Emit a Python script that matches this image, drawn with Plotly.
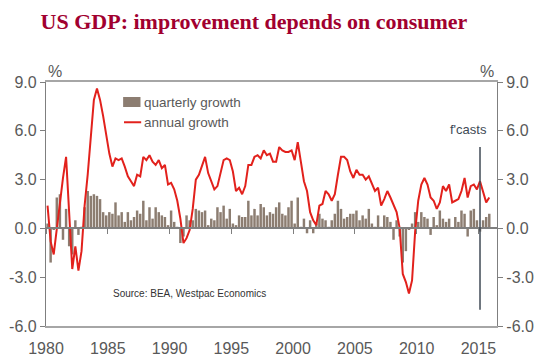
import plotly.graph_objects as go

# ---- data -------------------------------------------------------------
years = list(range(1980, 2016))
quarters = [f"{y}Q{q}" for y in years for q in range(1, 5)]

quarterly_growth = [
    0.3, -2.1, -0.1, 1.9,   # 1980
    2.1, -0.7, 1.2, -1.1,   # 1981
    -1.6, 0.5, -0.4, 0.1,   # 1982
    1.3, 2.3, 2.0, 2.1,     # 1983
    2.0, 1.8, 1.0, 0.8,     # 1984
    1.0, 0.9, 1.6, 0.8,     # 1985
    1.0, 0.4, 1.0, 0.5,     # 1986
    0.7, 1.1, 0.9, 1.7,     # 1987
    0.5, 1.3, 0.6, 1.3,     # 1988
    1.0, 0.8, 0.7, 0.2,     # 1989
    1.1, 0.4, 0.1, -0.9,    # 1990
    -0.5, 0.8, 0.5, 0.5,    # 1991
    1.2, 1.1, 1.0, 1.1,     # 1992
    0.2, 0.6, 0.5, 1.3,     # 1993
    1.0, 1.4, 0.6, 1.2,     # 1994
    0.3, 0.2, 0.8, 0.7,     # 1995
    0.7, 1.7, 0.8, 1.2,     # 1996
    0.8, 1.5, 1.3, 0.8,     # 1997
    1.0, 0.9, 1.3, 1.6,     # 1998
    0.9, 0.8, 1.3, 1.7,     # 1999
    0.3, 1.9, 0.1, 0.6,     # 2000
    -0.3, 0.5, -0.3, 0.3,   # 2001
    0.9, 0.6, 0.5, 0.1,     # 2002
    0.5, 0.9, 1.7, 1.2,     # 2003
    0.6, 0.7, 0.9, 0.9,     # 2004
    1.1, 0.5, 0.8, 0.6,     # 2005
    1.2, 0.3, 0.1, 0.8,     # 2006
    0.1, 0.8, 0.7, 0.4,     # 2007
    -0.7, 0.5, -0.5, -2.1,  # 2008
    -1.4, -0.1, 0.3, 1.0,   # 2009
    0.4, 1.0, 0.7, 0.6,     # 2010
    -0.4, 0.7, 0.2, 1.1,    # 2011
    0.6, 0.4, 0.6, 0.0,     # 2012
    0.7, 0.4, 1.1, 0.9,     # 2013
    -0.5, 1.1, 1.2, 0.5,    # 2014
    -0.2, 0.5, 0.7, 0.9,    # 2015
]

annual_growth = [
    1.4, -0.8, -1.6, 0.0,   # 1980
    1.7, 3.1, 4.4, 1.3,     # 1981
    -2.5, -1.1, -2.6, -1.4, # 1982
    1.4, 3.3, 5.6, 7.9,     # 1983
    8.6, 7.9, 6.9, 5.7,     # 1984
    4.6, 3.8, 4.3, 4.2,     # 1985
    4.3, 3.8, 3.2, 2.9,     # 1986
    2.6, 3.3, 3.2, 4.4,     # 1987
    4.2, 4.5, 4.1, 3.9,     # 1988
    4.2, 3.7, 3.9, 2.7,     # 1989
    2.8, 2.4, 1.7, 0.6,     # 1990
    -0.9, -0.6, -0.1, 1.2,  # 1991
    3.0, 3.3, 3.8, 4.4,     # 1992
    3.4, 2.9, 2.4, 2.6,     # 1993
    3.5, 4.2, 4.3, 4.2,     # 1994
    3.5, 2.3, 2.5, 2.1,     # 1995
    2.6, 3.9, 3.9, 4.4,     # 1996
    4.5, 4.3, 4.8, 4.5,     # 1997
    4.6, 4.1, 4.1, 5.0,     # 1998
    4.8, 4.7, 4.7, 4.8,     # 1999
    4.2, 5.3, 4.1, 2.9,     # 2000
    2.3, 1.0, 0.5, 0.2,     # 2001
    1.4, 1.5, 2.3, 2.1,     # 2002
    1.7, 2.1, 3.3, 4.4,     # 2003
    4.4, 4.2, 3.5, 3.1,     # 2004
    3.6, 3.3, 3.3, 3.0,     # 2005
    3.2, 2.8, 2.3, 2.5,     # 2006
    1.4, 1.8, 2.3, 1.9,     # 2007
    1.4, 1.0, 0.0, -2.8,    # 2008
    -3.3, -4.0, -3.2, -0.2, # 2009
    1.7, 2.7, 3.1, 2.7,     # 2010
    1.9, 1.7, 1.2, 1.6,     # 2011
    2.6, 2.3, 2.7, 1.6,     # 2012
    1.7, 1.8, 2.3, 3.1,     # 2013
    1.9, 2.6, 2.7, 2.4,     # 2014
    2.9, 2.3, 1.6, 1.9,     # 2015
]

tick_years = [1980, 1985, 1990, 1995, 2000, 2005, 2010, 2015]
y_ticks = [-6, -3, 0, 3, 6, 9]
forecast_start = "2015Q1"
forecast_marker_span = [-5.0, 5.0]

# ---- helpers ----------------------------------------------------------
def q_center(label):
    y, q = label.split("Q")
    return int(y) + (int(q) - 1) * 0.25 + 0.125

xpos = [q_center(q) for q in quarters]
x_range = [1980, 2016.5]
y_range = [-6, 9]

BAR = "#8c7d71"
RED = "#e2211c"
AXIS = "#7f7f7f"
TXT = "#595959"
FONT = "Liberation Sans"

fig = go.Figure()
fig.add_trace(go.Bar(
    x=xpos, y=quarterly_growth, name="quarterly growth",
    marker=dict(color=BAR, line=dict(width=0)),
    xaxis="x", yaxis="y", showlegend=False, hoverinfo="skip"))
fig.add_trace(go.Scatter(
    x=xpos, y=annual_growth, name="annual growth", mode="lines",
    line=dict(color=RED, width=2),
    xaxis="x2", yaxis="y2", showlegend=False, hoverinfo="skip"))

ytext = [f"{v:.1f}" for v in y_ticks]

fig.update_layout(
    width=544, height=361,
    margin=dict(l=46, r=47, t=82, b=35, autoexpand=False),
    paper_bgcolor="white", plot_bgcolor="white",
    font=dict(family=FONT, color=TXT),
    bargap=0.2,
    title=dict(
        text="<b>US GDP: improvement depends on consumer</b>",
        font=dict(family="Liberation Serif", size=22, color="#a1002f"),
        x=254 / 544, xanchor="center", xref="container",
        y=1 - 21 / 361, yanchor="middle", yref="container"),
    xaxis=dict(
        domain=[0, 1], range=x_range, tickmode="array", automargin=False,
        tickvals=tick_years, ticktext=[str(y) for y in tick_years],
        ticks="outside", ticklen=7, tickcolor="rgba(0,0,0,0)",
        showline=True, linecolor="#a6a6a6", linewidth=1.5, mirror=True,
        showgrid=False, zeroline=False,
        tickfont=dict(size=16, color=TXT, family=FONT)),
    xaxis2=dict(
        overlaying="x", anchor="free", position=0.4, range=x_range,
        automargin=False,
        tickmode="array", tickvals=tick_years, ticks="outside", ticklen=5,
        tickcolor=AXIS, showticklabels=False, showline=True,
        linecolor=AXIS, linewidth=1.5, showgrid=False, zeroline=False),
    yaxis=dict(
        domain=[0, 1], range=y_range, tickmode="array", tickvals=y_ticks,
        automargin=False,
        ticktext=ytext, ticks="outside", ticklen=5, tickcolor=AXIS,
        showline=True, linecolor=AXIS, linewidth=1.2,
        showgrid=False, zeroline=False,
        tickfont=dict(size=16, color=TXT, family=FONT)),
    yaxis2=dict(
        overlaying="y", side="right", anchor="x", range=y_range,
        automargin=False,
        tickmode="array", tickvals=y_ticks, ticktext=ytext,
        ticks="outside", ticklen=5, tickcolor=AXIS,
        showline=True, linecolor=AXIS, linewidth=1.2,
        showgrid=False, zeroline=False,
        tickfont=dict(size=16, color=TXT, family=FONT)),
)

fx = q_center(forecast_start)
fig.add_shape(type="line", xref="x", yref="y", x0=fx, x1=fx,
              y0=forecast_marker_span[0], y1=forecast_marker_span[1],
              line=dict(color="#404a55", width=1.5))

# legend (drawn manually to mimic the original look)
fig.add_shape(type="rect", xref="paper", yref="paper",
              x0=0.171, x1=0.2095, y0=0.8975, y1=0.9385,
              fillcolor=BAR, line=dict(width=0))
fig.add_shape(type="line", xref="paper", yref="paper",
              x0=0.173, x1=0.211, y0=0.835, y1=0.835,
              line=dict(color=RED, width=2))

ann = [
    dict(text="quarterly growth", xref="paper", yref="paper", x=0.213, y=0.918,
         xanchor="left", yanchor="middle", font=dict(size=13.5, color=TXT)),
    dict(text="annual growth", xref="paper", yref="paper", x=0.213, y=0.834,
         xanchor="left", yanchor="middle", font=dict(size=13.5, color=TXT)),
    dict(text="%", xref="paper", yref="paper", x=0.02, y=1.045,
         xanchor="center", yanchor="middle", font=dict(size=16, color=TXT)),
    dict(text="%", xref="paper", yref="paper", x=0.978, y=1.045,
         xanchor="center", yanchor="middle", font=dict(size=16, color=TXT)),
    dict(text="f'casts", xref="x", yref="y", x=2015.85, y=6.05,
         xanchor="right", yanchor="middle", font=dict(size=13, color="#404a55")),
    dict(text="Source: BEA, Westpac Economics", xref="x", yref="y", x=1985.3, y=-4.0,
         xanchor="left", yanchor="middle", font=dict(size=10, color="#333333")),
]
for a in ann:
    a["showarrow"] = False
    fig.add_annotation(**a)

fig.write_html("out.html",
               config={"displayModeBar": False},
               post_script="document.body.style.margin='0';"
                           "document.body.style.overflow='hidden';")
